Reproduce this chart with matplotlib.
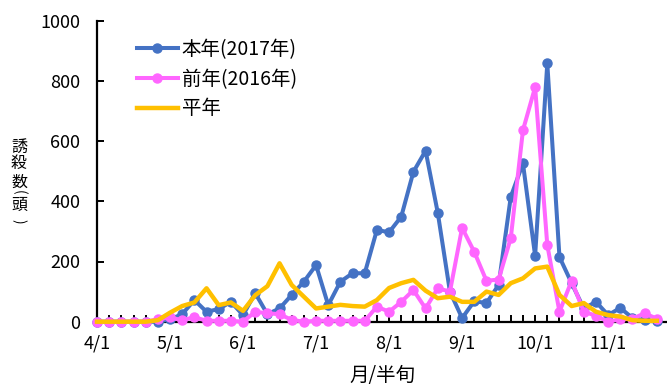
import matplotlib
matplotlib.use("Agg")
import matplotlib.pyplot as plt
from matplotlib.ticker import FixedLocator, MultipleLocator

plt.rcParams['font.family'] = ['Noto Sans CJK JP', 'DejaVu Sans']

# 半旬ごとの誘殺数 (4/1 から 6 点で 1 か月)
month_labels = ['4/1', '5/1', '6/1', '7/1', '8/1', '9/1', '10/1', '11/1']

count_2017 = [0, 0, 0, 0, 0, 0, 8, 25, 72, 33, 42, 66, 22, 95, 25, 44,
              89, 133, 188, 55, 133, 161, 161, 305, 297, 349, 498, 568,
              362, 100, 12, 68, 62, 122, 415, 526, 219, 858, 215, 128,
              44, 66, 22, 46, 12, 5, 2]
count_2016 = [0, 0, 0, 0, 0, 8, 14, 5, 15, 3, 3, 3, 0, 33, 28, 25, 6, 0,
              3, 3, 3, 3, 3, 50, 33, 66, 105, 44, 111, 100, 312, 232,
              136, 140, 278, 636, 779, 255, 33, 136, 33, 20, 0, 8, 10,
              28, 10]
count_avg = [0, 0, 0, 0, 0, 5, 30, 52, 64, 111, 55, 64, 36, 88, 118, 194,
             122, 83, 44, 50, 56, 52, 50, 72, 112, 128, 139, 103, 78, 83,
             66, 66, 100, 89, 128, 144, 177, 183, 89, 52, 62, 33, 22, 17,
             5, 3, 3]

x = list(range(len(count_2017)))

fig = plt.figure(figsize=(6.67, 3.85), dpi=100)
ax = fig.add_axes([97 / 667, 1 - 321.7 / 385, 570 / 667, 301 / 385])

ax.plot(x, count_2017, color='#4472C4', lw=2.9, marker='o', ms=6.5,
        label='本年(2017年)', clip_on=False, zorder=3)
ax.plot(x, count_2016, color='#FF66FF', lw=2.9, marker='o', ms=6.5,
        label='前年(2016年)', clip_on=False, zorder=4)
ax.plot(x, count_avg, color='#FFC000', lw=3.2, label='平年',
        clip_on=False, zorder=5)

ax.set_xlim(0, 570 / 12.17)
ax.set_ylim(0, 1000)
ax.yaxis.set_major_locator(MultipleLocator(200))
ax.xaxis.set_major_locator(FixedLocator([6 * k for k in range(len(month_labels))]))
ax.xaxis.set_minor_locator(MultipleLocator(1))
ax.set_xticklabels(month_labels)

for side in ['top', 'right']:
    ax.spines[side].set_visible(False)
for side in ['left', 'bottom']:
    ax.spines[side].set_linewidth(1.6)
    ax.spines[side].set_zorder(2)

ax.tick_params(axis='y', direction='in', length=5, width=1.4, pad=12,
               labelsize=13)
ax.tick_params(axis='x', which='both', direction='in', length=5, width=1.4,
               pad=9, labelsize=13)

ax.set_xlabel('月/半旬', fontsize=14, labelpad=9)

# 縦書きの軸タイトル (括弧は横倒し)
ylabel_chars = ['誘', '殺', '数', '(', '頭', ')']
ylabel_pos = [147, 164, 182, 192, 205, 221]
for ch, yp in zip(ylabel_chars, ylabel_pos):
    if ch in '()':
        fig.text(19 / 667, 1 - yp / 385, ch, fontsize=10, ha='center',
                 va='center', rotation=-90)
    else:
        fig.text(19 / 667, 1 - yp / 385, ch, fontsize=11.5, ha='center',
                 va='center')

ax.legend(loc='upper left', bbox_to_anchor=(137 / 667, 1 - 39 / 385),
          bbox_transform=fig.transFigure, frameon=False, fontsize=14,
          handlelength=2.1, handletextpad=0.2, labelspacing=0.45,
          borderpad=0, borderaxespad=0)

fig.savefig('out.png', dpi=100)
